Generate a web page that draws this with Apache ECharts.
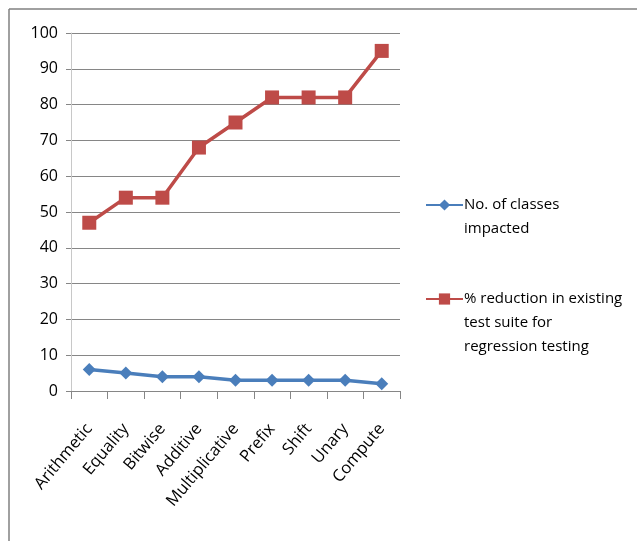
<!DOCTYPE html>
<html>
<head>
<meta charset="utf-8">
<script src="https://cdn.jsdelivr.net/npm/echarts@6/dist/echarts.min.js"></script>
<style>
  html, body { margin: 0; padding: 0; background: #fff; }
  #chart { width: 637px; height: 541px; }
</style>
</head>
<body>
<div id="chart"></div>
<script>
// Operator categories on the x axis
var categories = ['Arithmetic', 'Equality', 'Bitwise', 'Additive', 'Multiplicative', 'Prefix', 'Shift', 'Unary', 'Compute'];
// Number of classes impacted per operator
var classesImpacted = [6, 5, 4, 4, 3, 3, 3, 3, 2];
// Percent reduction in the existing regression suite
var suiteReduction = [47, 54, 54, 68, 75, 82, 82, 82, 95];
var yTicks = { min: 0, max: 100, interval: 10 };

var seriesNames = ['No. of classes impacted', '% reduction in existing test suite for regression testing'];
var legendLines = [
  ['No. of classes', 'impacted'],
  ['% reduction in existing', 'test suite for', 'regression testing']
];

var FONT = '"Open Sans", "Noto Sans", sans-serif';
var BLUE = '#4a7ebb';
var RED = '#be4b48';

// Icon is centred on the text block, so pad blank lines above to line it up with the first line
function legendText(lines) {
  var pad = [];
  for (var i = 1; i < lines.length; i++) pad.push(' ');
  return pad.concat(lines).join('\n');
}

function makeLegend(idx, top) {
  return {
    data: [seriesNames[idx]],
    left: 425,
    top: top,
    itemWidth: 37,
    itemHeight: 14,
    itemGap: 0,
    padding: 0,
    formatter: function () { return legendText(legendLines[idx]); },
    textStyle: { fontFamily: FONT, fontSize: 15, color: '#000', lineHeight: 24, padding: [0, 0, 0, -4] }
  };
}

var chart = echarts.init(document.getElementById('chart'), null, { renderer: 'canvas' });
chart.setOption({
  animation: false,
  backgroundColor: '#fff',
  grid: { left: 71, top: 33, right: 237, bottom: 150, containLabel: false },
  legend: [makeLegend(0, 169), makeLegend(1, 239)],
  xAxis: {
    type: 'category',
    data: categories,
    boundaryGap: true,
    axisLine: { lineStyle: { color: '#868686', width: 1 } },
    axisTick: { show: true, length: 8, alignWithLabel: false, lineStyle: { color: '#868686' } },
    axisLabel: { rotate: 50, margin: 35, fontFamily: FONT, fontSize: 16.5, color: '#000', interval: 0 },
    splitLine: { show: false }
  },
  yAxis: {
    type: 'value',
    min: yTicks.min,
    max: yTicks.max,
    interval: yTicks.interval,
    axisLine: { show: true, lineStyle: { color: '#c8c8c8', width: 1 } },
    axisTick: { show: true, length: 5, lineStyle: { color: '#868686' } },
    axisLabel: { margin: 13, fontFamily: FONT, fontSize: 16, color: '#000' },
    splitLine: { show: true, lineStyle: { color: '#868686', width: 1 } }
  },
  series: [
    {
      name: seriesNames[0],
      type: 'line',
      data: classesImpacted,
      symbol: 'diamond',
      symbolSize: 13,
      lineStyle: { color: BLUE, width: 3.5 },
      itemStyle: { color: BLUE },
      z: 3
    },
    {
      name: seriesNames[1],
      type: 'line',
      data: suiteReduction,
      symbol: 'rect',
      symbolSize: 14,
      lineStyle: { color: RED, width: 3.5 },
      itemStyle: { color: RED },
      z: 3
    }
  ],
  graphic: [
    // frame: top and left edges
    { type: 'line', shape: { x1: 9, y1: 9, x2: 637, y2: 9 }, style: { stroke: '#808080', lineWidth: 1.5 }, silent: true },
    { type: 'line', shape: { x1: 9, y1: 9, x2: 9, y2: 541 }, style: { stroke: '#808080', lineWidth: 1.5 }, silent: true }
  ]
});
</script>
</body>
</html>
